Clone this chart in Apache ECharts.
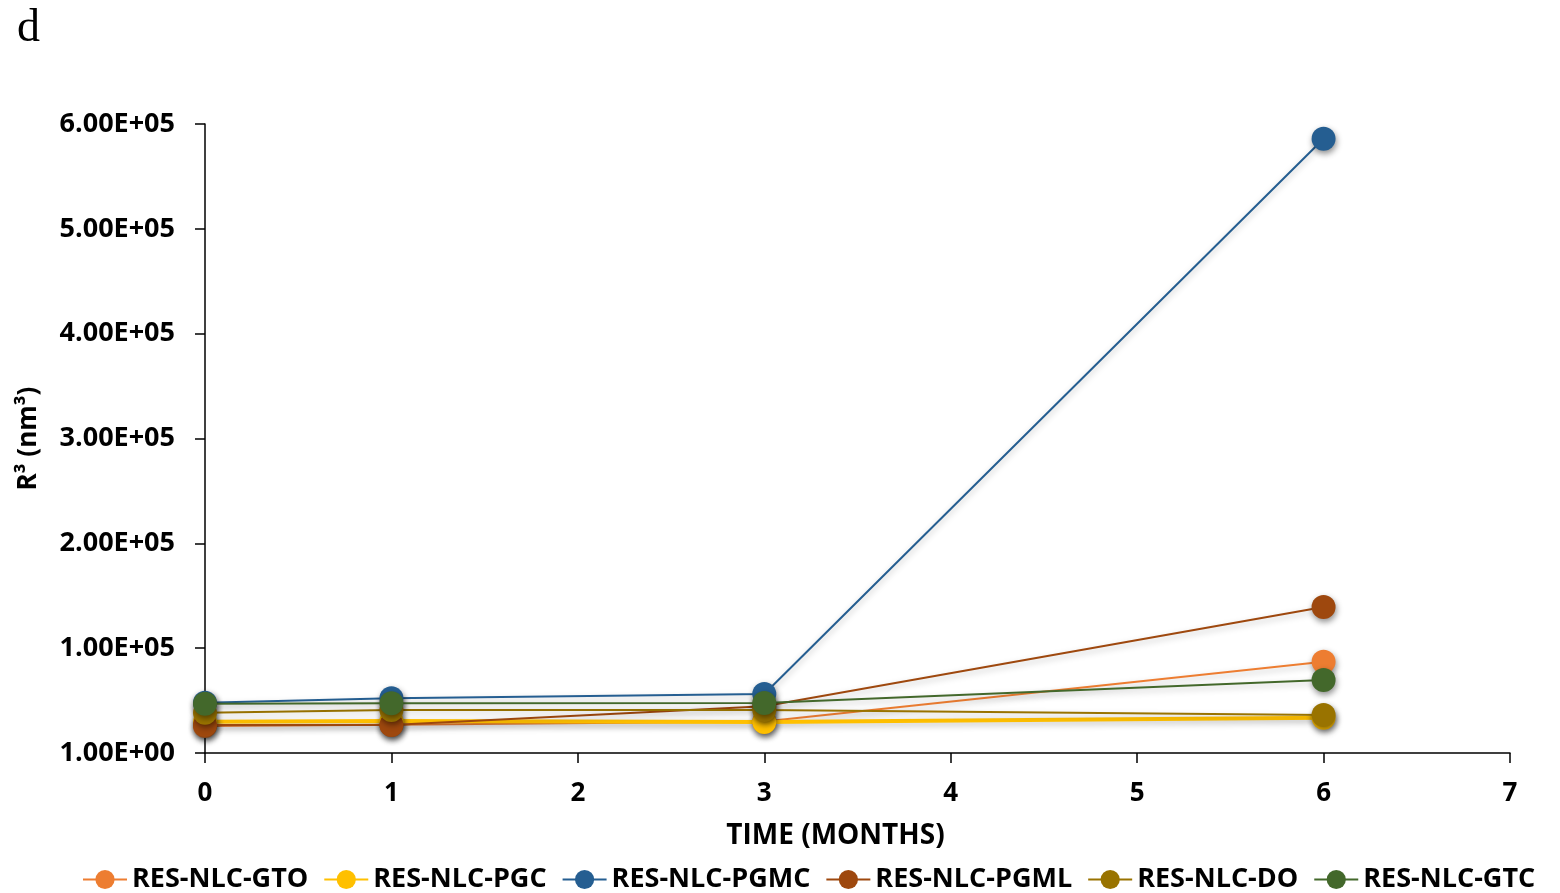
<!DOCTYPE html>
<html>
<head>
<meta charset="utf-8">
<script src="https://cdn.jsdelivr.net/npm/echarts@6/dist/echarts.min.js"></script>
<style>
  html, body { margin: 0; padding: 0; background: #fff; }
  #chart { width: 1560px; height: 893px; }
</style>
</head>
<body>
<div id="chart"></div>
<script>
// Storage time points (months)
const months = [0, 1, 3, 6];

// R^3 (nm^3) for each formulation
const gto  = [25800, 27000, 30000, 87100];
const pgc  = [29900, 30500, 29500, 33700];
const pgmc = [48000, 52200, 56300, 585900];
const pgml = [26700, 26700, 44500, 139300];
const dO   = [38500, 41000, 41000, 36300];
const gtc  = [47000, 47400, 47700, 69700];

const seriesNames = ['RES-NLC-GTO', 'RES-NLC-PGC', 'RES-NLC-PGMC', 'RES-NLC-PGML', 'RES-NLC-DO', 'RES-NLC-GTC'];
const seriesValues = [gto, pgc, pgmc, pgml, dO, gtc];
const colors = ['#ED7D31', '#FFC000', '#255E91', '#9E480E', '#997300', '#43682B'];
const lineWidths = [2, 4, 2, 2, 2, 2];

const yTicks = { min: 1, max: 600001, step: 100000 };

const chart = echarts.init(document.getElementById('chart'));

const series = seriesNames.map((name, i) => ({
  name,
  type: 'line',
  data: months.map((m, j) => [m, seriesValues[i][j]]),
  symbol: 'circle',
  symbolSize: 24,
  z: 2 + i,
  lineStyle: {
    color: colors[i],
    width: lineWidths[i],
    shadowColor: 'rgba(0,0,0,0.25)',
    shadowBlur: 6,
    shadowOffsetY: 3
  },
  itemStyle: {
    color: colors[i],
    shadowColor: 'rgba(0,0,0,0.45)',
    shadowBlur: 6,
    shadowOffsetX: 1,
    shadowOffsetY: 3
  },
  emphasis: { disabled: true }
}));

chart.setOption({
  animation: false,
  textStyle: { fontFamily: 'Open Sans' },
  graphic: [{
    type: 'text',
    left: 17,
    top: 6,
    style: { text: 'd', font: '46px "Liberation Serif"', fill: '#000' }
  }],
  grid: { left: 205, right: 50, top: 124, bottom: 140, containLabel: false },
  legend: {
    bottom: 0,
    left: 82,
    width: 1478,
    padding: 0,
    itemWidth: 44,
    itemHeight: 24,
    itemGap: 15,
    textStyle: { fontSize: 27, fontWeight: 'bold', color: '#000', fontFamily: 'Open Sans' },
    data: seriesNames
  },
  xAxis: {
    type: 'value',
    min: 0,
    max: 7,
    interval: 1,
    name: 'TIME (MONTHS)',
    nameLocation: 'middle',
    nameGap: 69,
    nameTextStyle: { fontSize: 28, fontWeight: 'bold', color: '#000', padding: [0, 44, 0, 0] },
    axisLine: { lineStyle: { color: '#000', width: 1.5 } },
    axisTick: { show: true, length: 10, lineStyle: { color: '#000', width: 1.5 } },
    axisLabel: { fontSize: 26, fontWeight: 'bold', color: '#000', margin: 28 },
    splitLine: { show: false }
  },
  yAxis: {
    type: 'value',
    min: yTicks.min,
    max: yTicks.max,
    interval: yTicks.step,
    name: 'R³ (nm³)',
    nameLocation: 'middle',
    nameRotate: 90,
    nameGap: 163,
    nameTextStyle: { fontSize: 26, fontWeight: 'bold', color: '#000' },
    axisLine: { show: true, lineStyle: { color: '#000', width: 1.5 } },
    axisTick: { show: true, length: 10, lineStyle: { color: '#000', width: 1.5 } },
    axisLabel: {
      fontSize: 27, fontWeight: 'bold', color: '#000', margin: 30,
      formatter: v => v.toExponential(2).toUpperCase().replace(/E([+-])(\d)$/, 'E$10$2')
    },
    splitLine: { show: false }
  },
  series
});
</script>
</body>
</html>
